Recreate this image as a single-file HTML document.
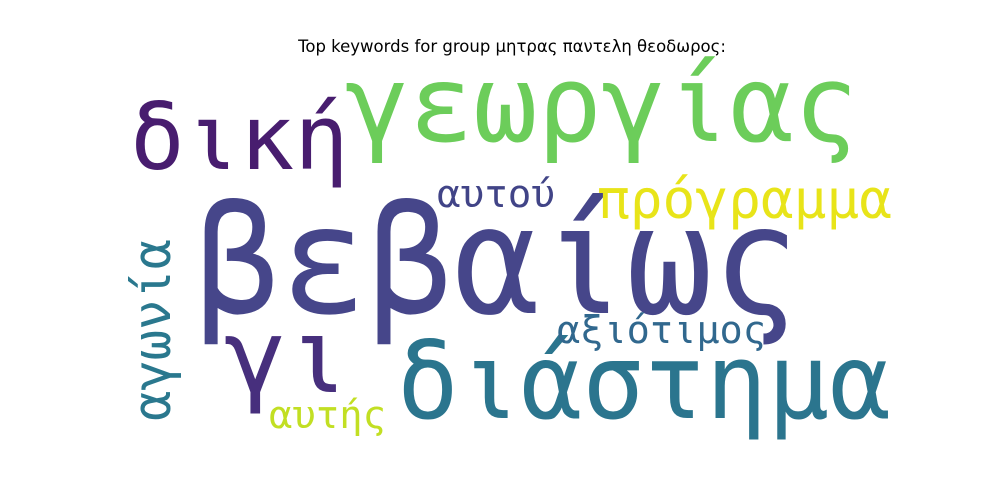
<!DOCTYPE html>
<html><head><meta charset="utf-8"><style>
html,body{margin:0;padding:0;background:#fff;}
svg{display:block;}
text{font-family:"DejaVu Sans Mono","Liberation Mono",monospace;}
</style></head><body>
<svg width="1000" height="500" viewBox="0 0 1000 500">
<rect width="1000" height="500" fill="#fff"/>
<text x="512" y="52" font-size="16.5" text-anchor="middle" fill="#000" style="font-family:'DejaVu Sans',sans-serif">Top keywords for group μητρας παντελη θεοδωρος:</text>
<text x="194" y="313" font-size="150" fill="#46468a" textLength="605" lengthAdjust="spacingAndGlyphs">βεβαίως</text>
<text x="345" y="141" font-size="106" fill="#6ccd5a" textLength="513" lengthAdjust="spacingAndGlyphs">γεωργίας</text>
<text x="130" y="169" font-size="90" fill="#481d6f" textLength="219" lengthAdjust="spacingAndGlyphs">δική</text>
<text x="397" y="418" font-size="104" fill="#2b758e" textLength="494" lengthAdjust="spacingAndGlyphs">διάστημα</text>
<text x="224" y="392" font-size="102" fill="#472f7d" textLength="125" lengthAdjust="spacingAndGlyphs">γι</text>
<text x="597" y="218" font-size="54" fill="#e8e419" textLength="295" lengthAdjust="spacingAndGlyphs">πρόγραμμα</text>
<text x="437" y="207" font-size="38" fill="#414487" textLength="118" lengthAdjust="spacingAndGlyphs">αυτού</text>
<text x="557" y="343" font-size="38" fill="#31688e" textLength="209" lengthAdjust="spacingAndGlyphs">αξιότιμος</text>
<text x="269" y="428" font-size="38" fill="#c2df23" textLength="117" lengthAdjust="spacingAndGlyphs">αυτής</text>
<text transform="translate(170,421) rotate(-90)" x="0" y="0" font-size="52" fill="#2a788e" textLength="182" lengthAdjust="spacingAndGlyphs">αγωνία</text>
</svg>
</body></html>
